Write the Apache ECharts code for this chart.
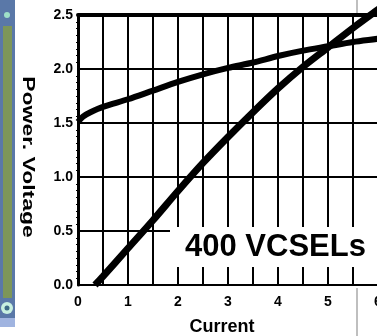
<!DOCTYPE html>
<html>
<head>
<meta charset="utf-8">
<script src="https://cdn.jsdelivr.net/npm/echarts@6/dist/echarts.min.js"></script>
<style>
  html, body { margin: 0; padding: 0; background: #fff; }
  #chart { width: 377px; height: 336px; }
</style>
</head>
<body>
<div id="chart"></div>
<script>
// data
var voltageX = [0, 0.1, 0.25, 0.5, 1.0, 1.5, 2.0, 2.5, 3.0, 3.5, 4.0, 4.5, 5.0, 5.5, 6.0, 6.3];
var voltageY = [1.51, 1.56, 1.6, 1.65, 1.72, 1.8, 1.88, 1.95, 2.01, 2.06, 2.12, 2.17, 2.21, 2.25, 2.28, 2.3];
var powerX = [0.34, 0.5, 1.0, 1.5, 2.0, 2.5, 3.0, 3.5, 4.0, 4.5, 5.0, 5.5, 6.0, 6.3];
var powerY = [0, 0.08, 0.34, 0.6, 0.87, 1.13, 1.37, 1.6, 1.82, 2.02, 2.2, 2.38, 2.55, 2.65];
var yTicks = [0, 0.5, 1.0, 1.5, 2.0, 2.5];

var chart = echarts.init(document.getElementById('chart'));

function pairs(xs, ys) {
    var out = [];
    for (var i = 0; i < xs.length; i++) out.push([xs[i], ys[i]]);
    return out;
}

var font = 'Liberation Sans';

chart.setOption({
    animation: false,
    grid: { left: 78, top: 15, width: 400, height: 270, outerBoundsMode: 'none', containLabel: false },
    xAxis: [{
        type: 'value', min: 0, max: 8, interval: 0.5,
        name: 'Current', nameLocation: 'middle', nameGap: 33,
        nameTextStyle: { fontFamily: font, fontWeight: 'bold', fontSize: 18, color: '#000', padding: [0, 112, 0, 0] },
        axisLine: { lineStyle: { color: '#000', width: 2, type: [2, 2] } },
        axisTick: { show: false },
        axisLabel: {
            margin: 10, color: '#000', fontFamily: font, fontWeight: 'bold', fontSize: 14,
            formatter: function (v) { return v % 1 === 0 ? String(v) : ''; }
        },
        splitLine: { lineStyle: { color: '#000', width: 2 } }
    }, {
        type: 'value', min: 0, max: 8, position: 'top',
        axisLine: { lineStyle: { color: '#000', width: 4 } },
        axisTick: { show: false }, axisLabel: { show: false }, splitLine: { show: false }
    }],
    yAxis: {
        type: 'value', min: yTicks[0], max: yTicks[yTicks.length - 1], interval: 0.5,
        axisLine: { show: true, lineStyle: { color: '#000', width: 3 } },
        axisTick: { show: false },
        minorTick: { show: true, splitNumber: 8, length: 2, lineStyle: { color: '#000', width: 1 } },
        axisLabel: {
            margin: 5, color: '#000', fontFamily: font, fontWeight: 'bold', fontSize: 14,
            formatter: function (v) { return v.toFixed(1); }
        },
        splitLine: { lineStyle: { color: '#000', width: 2 } }
    },
    series: [{
        name: 'Voltage', type: 'line', data: pairs(voltageX, voltageY),
        showSymbol: false, smooth: 0.3, clip: false,
        lineStyle: { color: '#000', width: 6 }, z: 5
    }, {
        name: 'Power', type: 'line', data: pairs(powerX, powerY),
        showSymbol: false, smooth: 0.3, clip: false,
        lineStyle: { color: '#000', width: 7 }, z: 5
    }],
    graphic: [
        // slide decoration on the left edge
        { type: 'rect', shape: { x: 0, y: 0, width: 15, height: 327 }, style: { fill: '#5a78a8' } },
        { type: 'rect', shape: { x: 3, y: 26, width: 9, height: 272 }, style: { fill: '#7d9659' } },
        { type: 'circle', shape: { cx: 7, cy: 15, r: 3 }, style: { fill: '#9fe0c8' } },
        { type: 'circle', shape: { cx: 7, cy: 308, r: 6 }, style: { fill: '#c8f0e0' } },
        { type: 'circle', shape: { cx: 7, cy: 308, r: 2.5 }, style: { fill: '#3d6a85' } },
        { type: 'rect', shape: { x: 0, y: 318, width: 15, height: 9 }, style: { fill: '#a0b4e0' } },
        { type: 'line', shape: { x1: 357, y1: 0, x2: 357, y2: 13 }, style: { stroke: '#aaa', lineWidth: 1.5 } },
        { type: 'line', shape: { x1: 357, y1: 288, x2: 357, y2: 336 }, style: { stroke: '#aaa', lineWidth: 1.5 } },
        {
            type: 'text', x: 28, y: 157, rotation: -Math.PI / 2, scaleX: 1.35,
            style: { text: 'Power. Voltage', font: 'bold 17px "Liberation Sans"', fill: '#000', align: 'center', verticalAlign: 'middle' }
        },
        {
            type: 'text', x: 170, y: 247, z: 10,
            style: {
                text: '400 VCSELs', font: 'bold 31px "Liberation Sans"', fill: '#000',
                verticalAlign: 'middle', backgroundColor: '#fff', padding: [8, 40, 8, 15], lineHeight: 24
            }
        }
    ]
});
</script>
</body>
</html>
